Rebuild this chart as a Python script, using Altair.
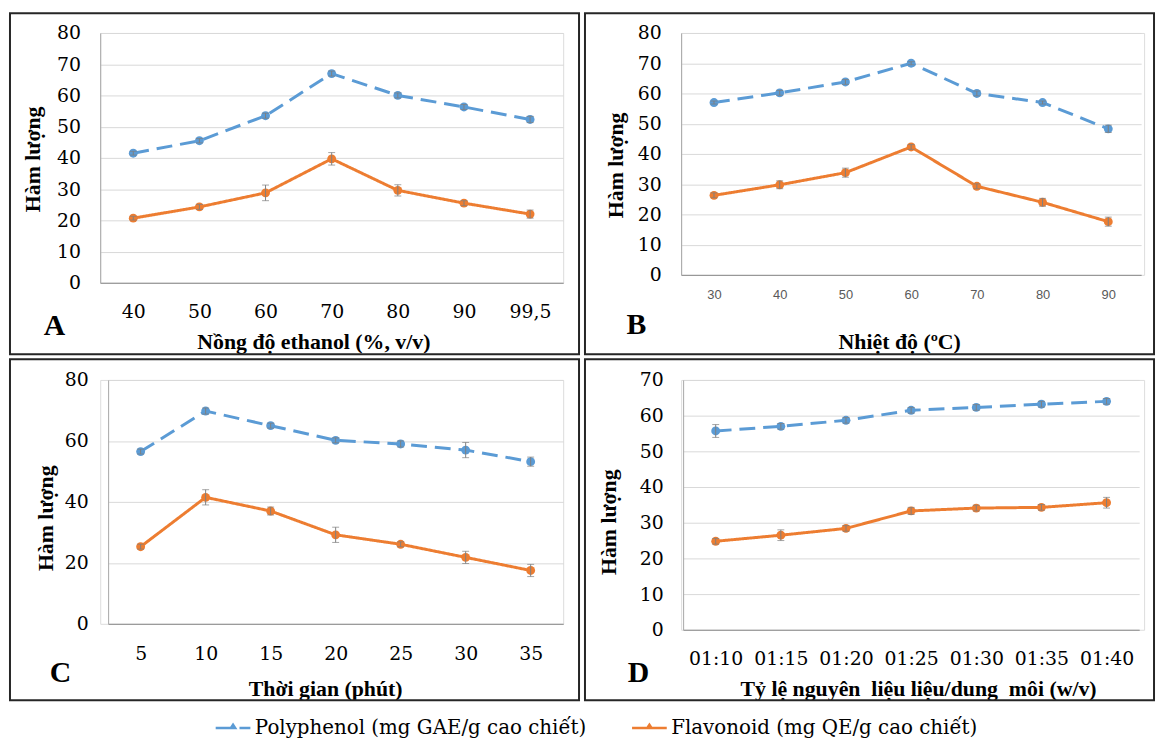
import altair as alt
import pandas as pd

# ---------------- data ----------------
series_names = ["Polyphenol (mg GAE/g cao chiết)", "Flavonoid (mg QE/g cao chiết)"]
series_colors = ["#5B9BD5", "#ED7D31"]

a_x = ["40", "50", "60", "70", "80", "90", "99,5"]
a_poly = [41.5, 45.5, 53.5, 67.0, 60.0, 56.3, 52.3]
a_poly_err = [0.6, 0.7, 0.8, 0.8, 0.8, 0.8, 1.0]
a_flav = [20.7, 24.3, 28.8, 39.7, 29.6, 25.5, 22.0]
a_flav_err = [0.6, 0.8, 2.5, 2.0, 1.8, 0.8, 1.3]

b_x = ["30", "40", "50", "60", "70", "80", "90"]
b_poly = [57.0, 60.2, 63.8, 70.0, 60.0, 57.0, 48.3]
b_poly_err = [0.5, 0.8, 0.8, 0.5, 0.8, 0.5, 1.2]
b_flav = [26.3, 29.8, 33.8, 42.3, 29.3, 24.0, 17.6]
b_flav_err = [0.8, 1.3, 1.5, 0.8, 0.8, 1.3, 1.5]

c_x = ["5", "10", "15", "20", "25", "30", "35"]
c_poly = [56.5, 69.8, 65.0, 60.2, 59.0, 57.0, 53.2]
c_poly_err = [0.8, 1.0, 0.8, 0.8, 1.0, 2.5, 1.5]
c_flav = [25.3, 41.5, 37.0, 29.2, 26.1, 21.8, 17.5]
c_flav_err = [0.8, 2.5, 1.3, 2.5, 0.8, 2.0, 2.0]

d_x = ["01:10", "01:15", "01:20", "01:25", "01:30", "01:35", "01:40"]
d_poly = [55.7, 57.0, 58.7, 61.5, 62.3, 63.2, 64.0]
d_poly_err = [1.8, 0.8, 0.8, 0.8, 0.8, 0.8, 0.8]
d_flav = [24.8, 26.5, 28.4, 33.3, 34.1, 34.3, 35.6]
d_flav_err = [0.8, 1.5, 0.8, 1.0, 0.8, 0.8, 1.5]

x_titles = ["Nồng độ ethanol (%, v/v)", "Nhiệt độ (ºC)", "Thời gian (phút)",
            "Tỷ lệ nguyên\u00a0 liệu liệu/dung\u00a0 môi (w/v)"]
y_title = "Hàm lượng"
panel_letters = ["A", "B", "C", "D"]

# ---------------- styles / geometry ----------------
SERIF = "Liberation Serif"
LABEL_SERIF = "DejaVu Serif"
CELL_W = 467
# positions relative to each plot's left/top edge; xoff = plot-left offset inside the cell
geo = {
    "A": dict(xoff=0, w=467, h=252, border=(-91, 483, -20, 324), yt=(-68, 127), xt=(215, 59), letter=(-46, 296), xpad=29),
    "B": dict(xoff=0, w=464, h=244, border=(-97, 477, -20, 324), yt=(-66, 133), xt=(220, 67), letter=(-45, 295), xpad=20),
    "C": dict(xoff=8, w=459, h=246, border=(-99, 475, -21, 323), yt=(-63, 139), xt=(219, 65), letter=(-48, 296), xpad=30),
    "D": dict(xoff=2, w=460, h=252, border=(-99, 475, -21, 323), yt=(-75, 143), xt=(237, 59), letter=(-45, 296), xpad=29),
}

legend = alt.Legend(
    title=None, orient="none", legendX=115, legendY=682, direction="horizontal",
    labelFont=LABEL_SERIF, labelFontSize=20, labelColor="#000", labelLimit=600,
    symbolType="M-1,0H1M-0.12,0L0,-0.18L0.12,0Z", symbolSize=1225, symbolStrokeWidth=2.5,
    labelOffset=3, columnPadding=40, padding=0,
)


def panel(xs, poly, poly_err, flav, flav_err, ymax, ystep, xtitle, letter,
          xlab_font, xlab_size, xlab_color):
    g = geo[letter]
    xo = g["xoff"]
    rows = []
    for s, vals, errs in [(series_names[0], poly, poly_err), (series_names[1], flav, flav_err)]:
        for x, v, e in zip(xs, vals, errs):
            rows.append({"x": x, "series": s, "v": v, "lo": v - e, "hi": v + e})
    df = pd.DataFrame(rows)

    xaxis = alt.Axis(
        title=xtitle, labelAngle=0, labelFont=xlab_font, labelFontSize=xlab_size,
        labelColor=xlab_color, labelPadding=g["xpad"], labelBaseline="middle",
        ticks=False, tickSize=0, domainColor="#8c8c8c", domainWidth=1, grid=False,
        titleX=g["xt"][0] + xo, titleY=g["xt"][1], titleAlign="center", titleBaseline="middle",
        titleFont=SERIF, titleFontSize=22, titleFontWeight="bold", titleColor="#000",
    )
    yaxis = alt.Axis(
        title=y_title, values=list(range(0, ymax + 1, ystep)), labelFont=LABEL_SERIF,
        labelFontSize=19, labelColor="#000", labelPadding=20, ticks=False, tickSize=0,
        domainColor="#a6a6a6", domainWidth=1, grid=True, gridColor="#d9d9d9", gridWidth=1,
        offset=-xo,
        titleX=g["yt"][0], titleY=g["yt"][1], titleAngle=270, titleAlign="center",
        titleBaseline="middle", titleFont=SERIF, titleFontSize=22, titleFontWeight="bold",
        titleColor="#000",
    )
    xenc = alt.X("x:N", sort=xs, scale=alt.Scale(type="point", padding=0.5, range=[xo, xo + g["w"]]), axis=xaxis)
    yscale = alt.Scale(domain=[0, ymax], nice=False)
    cscale = alt.Scale(domain=series_names, range=series_colors)

    base = alt.Chart(df)
    line = base.mark_line(strokeWidth=3).encode(
        x=xenc,
        y=alt.Y("v:Q", scale=yscale, axis=yaxis),
        color=alt.Color("series:N", scale=cscale, legend=legend),
        strokeDash=alt.StrokeDash("series:N", scale=alt.Scale(domain=series_names, range=[[16, 8], [1, 0]]), legend=None),
    )
    pts = base.mark_circle(size=80, opacity=1).encode(
        x=xenc,
        y=alt.Y("v:Q", scale=yscale, axis=yaxis),
        color=alt.Color("series:N", scale=cscale, legend=None),
    )
    err = base.mark_rule(color="#7f7f7f", strokeWidth=1).encode(
        x=xenc, y=alt.Y("lo:Q", scale=yscale, axis=yaxis), y2="hi:Q")
    cap_lo = base.mark_tick(color="#7f7f7f", thickness=1, size=7).encode(
        x=xenc, y=alt.Y("lo:Q", scale=yscale, axis=yaxis))
    cap_hi = base.mark_tick(color="#7f7f7f", thickness=1, size=7).encode(
        x=xenc, y=alt.Y("hi:Q", scale=yscale, axis=yaxis))

    bx1, bx2, by1, by2 = g["border"]
    border = alt.Chart(alt.Data(values=[{"k": 1}])).mark_rect(
        fill="white", fillOpacity=0, stroke="#262626", strokeWidth=2
    ).encode(x=alt.value(bx1 + xo), x2=alt.value(bx2 + xo), y=alt.value(by1), y2=alt.value(by2))
    lab = alt.Chart(alt.Data(values=[{"t": letter}])).mark_text(
        font=SERIF, fontSize=30, fontWeight="bold", color="#000", align="center", baseline="middle"
    ).encode(x=alt.value(g["letter"][0] + xo), y=alt.value(g["letter"][1]), text="t:N")

    return alt.layer(line, pts, err, cap_lo, cap_hi, border, lab).properties(width=CELL_W, height=g["h"])


pA = panel(a_x, a_poly, a_poly_err, a_flav, a_flav_err, 80, 10, x_titles[0], panel_letters[0], LABEL_SERIF, 19, "#000")
pB = panel(b_x, b_poly, b_poly_err, b_flav, b_flav_err, 80, 10, x_titles[1], panel_letters[1], "Liberation Sans", 13, "#595959")
pC = panel(c_x, c_poly, c_poly_err, c_flav, c_flav_err, 80, 20, x_titles[2], panel_letters[2], LABEL_SERIF, 19, "#000")
pD = panel(d_x, d_poly, d_poly_err, d_flav, d_flav_err, 70, 10, x_titles[3], panel_letters[3], LABEL_SERIF, 19, "#000")

chart = alt.concat(
    pA, pB, pC, pD, columns=2, spacing={"row": 98, "column": 119}, bounds="flush"
).properties(padding=0).configure_view(stroke=None).configure(background="white")

chart.save("out.html", embed_options={"renderer": "svg", "actions": False})
